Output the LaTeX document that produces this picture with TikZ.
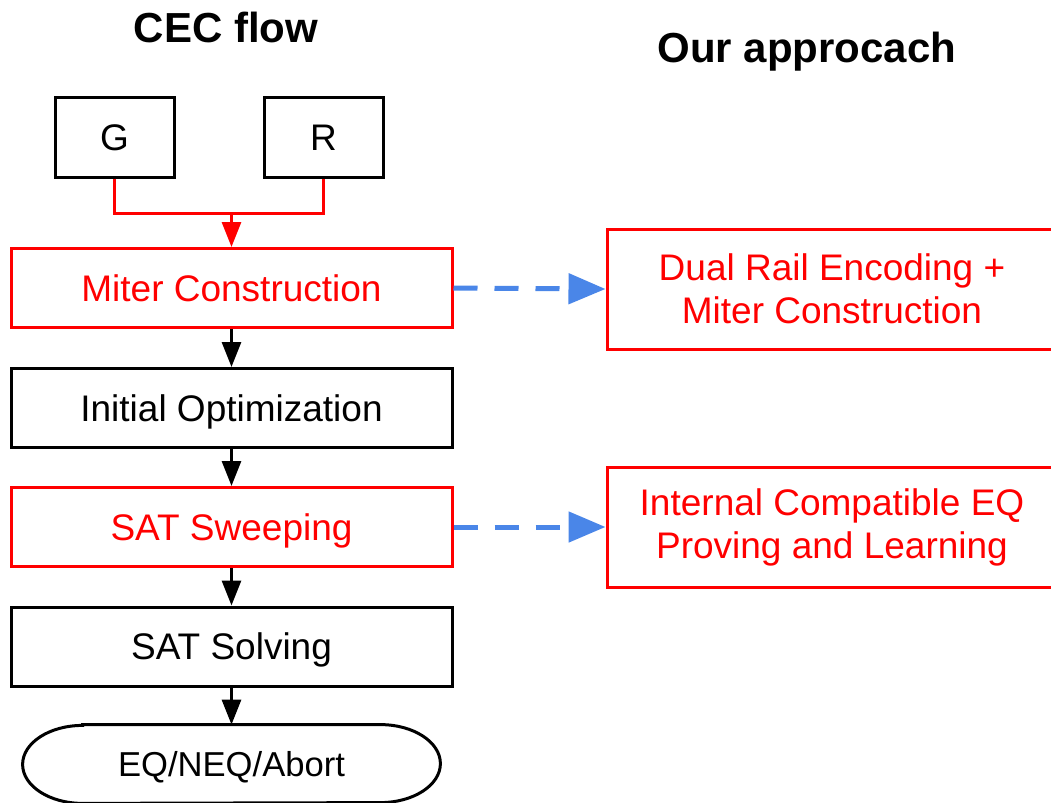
\documentclass[tikz,border=0pt]{standalone}
\usepackage{fontspec}
\setmainfont{Liberation Sans}
\usetikzlibrary{arrows.meta}
\definecolor{flowred}{HTML}{FF0000}
\definecolor{flowblue}{HTML}{4A86E8}
\begin{document}
\begin{tikzpicture}[x=0.5pt,y=-0.5pt,
  every node/.style={font=\fontsize{18.5pt}{21.5pt}\selectfont, inner sep=0pt},
  capcentre/.style={text height=13.25pt, text depth=0pt},
  stepbox/.style={draw=black, line width=1.5pt, minimum width=220.5pt, minimum height=39.5pt, text=black, capcentre},
  redbox/.style={stepbox, draw=flowred, text=flowred},
  inbox/.style={draw=black, line width=1.5pt, minimum width=59.5pt, minimum height=40pt, capcentre},
  sidebox/.style={draw=flowred, text=flowred, line width=1.5pt, minimum width=225pt, minimum height=60pt, align=center},
  endbox/.style={minimum width=208.5pt, minimum height=39pt,
    font=\fontsize{17.3pt}{20pt}\selectfont, text height=12.4pt, text depth=0pt},
  title/.style={font=\fontsize{21pt}{24pt}\selectfont\bfseries, anchor=base},
  flowarrow/.style={line width=1.5pt, -{Triangle[length=12.5pt,width=9.5pt]}},
  linkarrow/.style={draw=flowblue, line width=2.5pt, dash pattern=on 12pt off 8.5pt,
    -{Triangle[length=18.5pt,width=15pt]}}
]
\useasboundingbox (0,0) rectangle (1051,803);

% titles
\node[title] (t1) at (226,42) {CEC flow};
\node[title] (t2) at (807,62) {Our approcach};

% inputs
\node[inbox] (G) at (114.5,137) {G};
\node[inbox] (R) at (323.5,137) {R};

% main flow
\node[redbox]  (miter) at (231.5,288)   {Miter Construction};
\node[stepbox] (init)  at (231.5,408)   {Initial Optimization};
\node[redbox]  (sweep) at (231.5,527)   {SAT Sweeping};
\node[stepbox] (solve) at (231.5,646.5) {SAT Solving};
\node[endbox]  (res)   at (231.5,764)   {EQ/NEQ/Abort};
% terminator outline with elliptical ends
\draw[line width=1.5pt]
  ([xshift=30pt]res.north west) -- ([xshift=-30pt]res.north east)
  arc[start angle=90, end angle=-90, x radius=30pt, y radius=19.5pt]
  -- ([xshift=30pt]res.south west)
  arc[start angle=270, end angle=90, x radius=30pt, y radius=19.5pt] -- cycle;

% proposed steps
\node[sidebox] (dual) at (832,289) {\raisebox{-1pt}{Dual Rail Encoding +}\\\raisebox{-1pt}{Miter Construction}};
\node[sidebox] (icep) at (832,527) {\raisebox{-1pt}{Internal Compatible EQ}\\\raisebox{-1pt}{Proving and Learning}};

% merging G and R
\coordinate (j) at (231.5,213);
\draw[flowred, line width=1.5pt] (G.south) |- (j) -| (R.south);
\draw[flowarrow, flowred] (j) -- (miter.north);

% flow arrows
\draw[flowarrow] (miter) -- (init);
\draw[flowarrow] (init) -- (sweep);
\draw[flowarrow] (sweep) -- (solve);
\draw[flowarrow] (solve) -- (res);

% links to proposed steps
\draw[linkarrow] (miter.east) -- (dual.west);
\draw[linkarrow] (sweep.east) -- (icep.west);
\end{tikzpicture}
\end{document}
